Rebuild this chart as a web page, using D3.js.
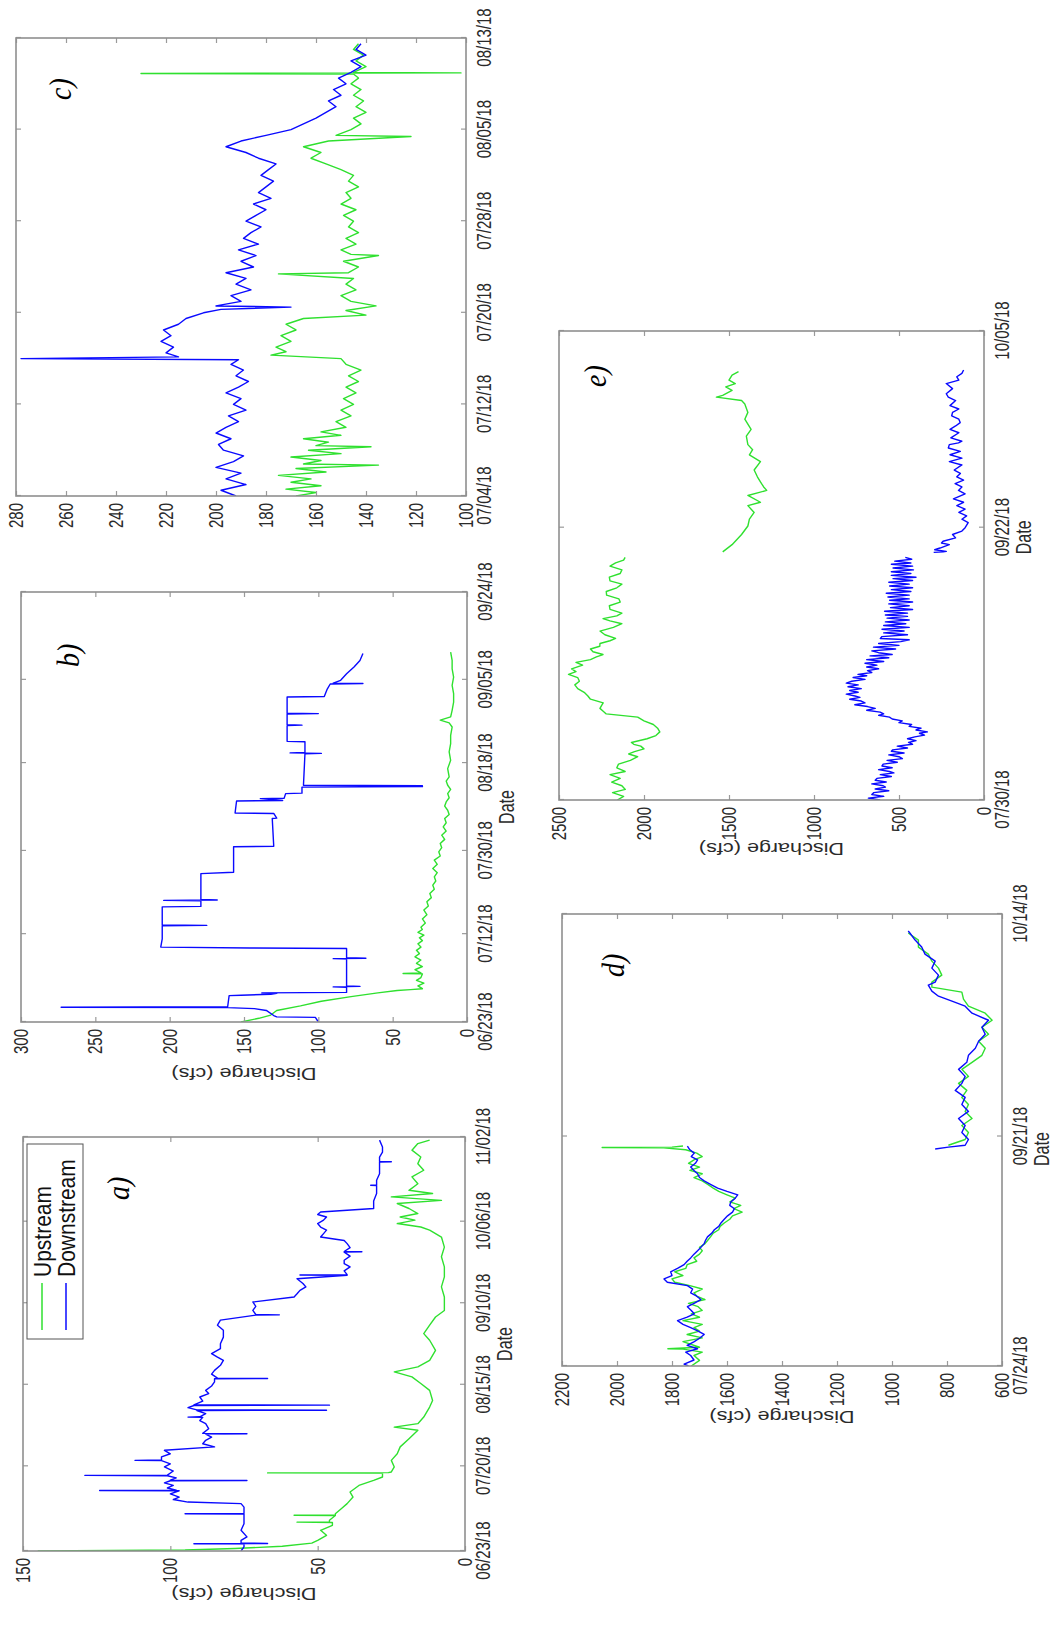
<!DOCTYPE html>
<html>
<head>
<meta charset="utf-8">
<script src="https://cdn.jsdelivr.net/npm/d3@7"></script>
<style>
  body { margin: 0; background: #fff; }
  svg { display: block; }
</style>
</head>
<body>
<svg id="fig" width="1053" height="1633"></svg>
<script>
// ---- tick labels ----
const aDates = ['06/23/18', '07/20/18', '08/15/18', '09/10/18', '10/06/18', '11/02/18'];
const aDateDays = [0, 27, 53, 79, 105, 132];
const aYTicks = [0, 50, 100, 150];

const bDates = ['06/23/18', '07/12/18', '07/30/18', '08/18/18', '09/05/18', '09/24/18'];
const bDateDays = [0, 19, 37, 56, 74, 93];
const bYTicks = [0, 50, 100, 150, 200, 250, 300];

const cDates = ['07/04/18', '07/12/18', '07/20/18', '07/28/18', '08/05/18', '08/13/18'];
const cDateDays = [0, 8, 16, 24, 32, 40];
const cYTicks = [100, 120, 140, 160, 180, 200, 220, 240, 260, 280];

// d and e skip a gap in the record, so their axes are broken at the middle date
const dDates = ['07/24/18', '09/21/18', '10/14/18'];
const dDateDays = [0, 59.8, 82];
const dYTicks = [600, 800, 1000, 1200, 1400, 1600, 1800, 2000, 2200];

const eDates = ['07/30/18', '09/22/18', '10/05/18'];
const eDateDays = [0, 55.4, 67];
const eYTicks = [0, 500, 1000, 1500, 2000, 2500];

// ---- series: [day on the axis, discharge cfs] ----
const aUp = [[0,145],[0.3,95],[0.8,78],[1.5,62],[2.5,52],[3.4,50],[5.0,47],[6.6,49],[8.2,45],[9.1,45],[9.2,57],[9.3,46],[9.8,46],[11.3,44],[11.4,58],[11.5,44],[11.9,44],[13.5,42],[15.1,40],[17.2,38],[18.8,39],[20.9,36],[22.5,31],[23.6,28],[24.8,28],[24.9,67],[25.0,26],[25.2,25],[26.8,24],[28.9,25],[31.0,23],[33.2,22],[35.8,19],[38.5,16],[39.5,24],[40.6,16],[42.7,14],[45.9,12],[48.0,11],[51.2,12],[53.4,15],[55.5,18],[57.1,24],[58.7,16],[60.8,12],[64.0,10],[67.2,12],[69.3,14],[72.0,12],[74.6,10],[76.7,7],[81.0,7],[84.2,8],[87.4,7],[90.6,7],[93.8,8],[96.9,7],[100.1,8],[102.3,12],[103.3,15],[104.4,23],[105.5,17],[106.5,22],[107.6,16],[109.2,19],[110.8,23],[111.8,8],[112.9,25],[114.0,11],[115.0,19],[117.1,16],[119.3,18],[121.4,14],[123.5,16],[125.6,15],[127.8,18],[129.9,16],[131.0,12]];
const aDown = [[0,76],[1.3,75],[2.2,75],[2.3,92],[2.4,67],[2.6,76],[3.4,76],[4.5,74],[6.6,76],[8.7,75],[11.8,75],[11.9,95],[12.0,75],[14.0,75],[15.1,76],[15.6,94],[16.4,99],[17.2,97],[18.2,100],[19.2,97],[19.3,124],[19.4,98],[20.1,101],[20.9,99],[21.7,102],[22.4,100],[22.5,74],[22.6,100],[23.3,98],[24.0,101],[24.1,129],[24.2,101],[25.5,99],[26.8,102],[27.8,100],[28.8,103],[28.9,112],[29.0,103],[30.0,103],[31.0,100],[32.1,102],[33.2,85],[34.2,89],[35.3,88],[36.3,86],[37.3,88],[37.4,74],[37.5,89],[39.0,87],[40.6,88],[41.6,90],[42.6,89],[42.7,94],[42.8,90],[43.8,88],[44.8,91],[44.9,47],[45.0,91],[45.7,94],[46.4,92],[46.5,46],[46.6,92],[47.8,89],[49.1,90],[50.2,87],[51.2,88],[52.6,86],[53.9,85],[54.9,85],[55.0,67],[55.1,84],[56.4,86],[57.6,85],[59.2,83],[60.8,82],[61.8,84],[62.9,86],[64.5,83],[66.1,83],[68.2,82],[70.4,82],[72.0,84],[73.6,83],[75.2,71],[75.3,63],[75.4,71],[76.7,72],[78.0,71],[79.4,72],[81.0,58],[82.0,57],[83.1,56],[84.2,54],[85.3,55],[86.8,57],[87.9,40],[88.0,56],[88.1,40],[89.3,41],[90.6,39],[91.6,41],[92.7,41],[94.0,39],[95.3,41],[95.4,35],[95.5,41],[96.7,39],[98.0,40],[99.0,41],[100.1,49],[101.2,48],[102.3,47],[103.3,49],[104.4,50],[105.5,48],[106.5,47],[107.3,50],[108.1,49],[109.2,31],[111.6,31],[114.0,30],[116.5,30],[116.6,32],[116.7,30],[118.2,30],[120.3,29],[122.5,29],[124.0,29],[124.1,25],[124.2,29],[125.6,29],[127.2,28],[128.8,28],[131.0,29]];

const bUp = [[0,152],[0.8,140],[1.5,132],[2.5,128],[3.5,112],[4.5,98],[5.5,78],[6.3,60],[6.8,47],[7.0,38],[7.2,30],[7.8,33],[8.4,29],[9.0,34],[9.6,31],[10.4,30],[10.5,43],[10.6,31],[11.3,35],[12.0,30],[12.7,34],[13.4,31],[14.1,35],[14.8,32],[15.5,34],[16.2,31],[16.9,33],[17.6,30],[18.2,32],[18.8,29],[19.4,33],[20.0,30],[20.5,31],[21.4,28],[22.3,30],[23.2,27],[24.2,29],[25.1,26],[26.0,27],[26.9,24],[27.8,25],[28.7,22],[29.6,23],[30.5,21],[31.4,22],[32.3,20],[33.2,23],[34.1,20],[35.0,22],[35.9,18],[36.8,19],[37.7,17],[38.6,18],[39.5,15],[40.4,17],[41.3,14],[42.2,16],[43.1,14],[44.0,15],[44.9,12],[45.8,13],[46.7,15],[47.6,14],[48.5,12],[49.4,13],[50.3,11],[51.2,13],[52.1,14],[53.0,12],[54.8,13],[56.6,11],[58.4,12],[60.2,11],[62.0,11],[63.8,10],[64.7,12],[65.3,18],[66.0,11],[67.4,10],[69.2,9],[71.0,9],[72.8,10],[74.6,9],[76.4,10],[78.2,10],[80.0,11]];
const bDown = [[0,100],[1.0,102],[1.1,128],[1.4,130],[2.5,135],[2.9,143],[3.1,161],[3.2,273],[3.3,161],[5.7,160],[5.8,152],[6.0,132],[6.2,128],[6.3,138],[6.4,81],[7.5,81],[7.6,90],[7.7,72],[7.8,81],[13.6,81],[13.7,90],[13.8,68],[13.9,81],[15.9,81],[16.0,146],[16.2,206],[18.0,205],[20.8,205],[20.9,175],[21.0,205],[24.9,205],[25.0,179],[26.2,179],[26.3,204],[26.4,168],[26.5,179],[32.1,179],[32.4,157],[37.9,157],[38.0,130],[44.0,131],[44.1,128],[45.1,130],[45.2,156],[47.8,155],[47.9,124],[48.3,139],[48.4,123],[49.4,122],[49.5,111],[50.8,111],[50.9,30],[51.1,30],[51.2,110],[58.0,109],[58.1,98],[58.2,119],[58.3,109],[60.6,109],[60.7,121],[64.1,121],[64.2,111],[64.3,121],[66.6,121],[66.7,100],[66.8,121],[70.3,121],[70.4,96],[72.0,94],[73.1,92],[73.2,70],[73.3,90],[73.9,85],[75.3,81],[76.8,76],[78.2,72],[79.7,70]];

const cUp = [[0,168],[0.3,160],[0.6,172],[0.9,158],[1.2,170],[1.5,162],[1.8,175],[2.1,156],[2.4,168],[2.7,135],[2.8,165],[3.1,158],[3.4,170],[3.7,150],[4.0,163],[4.3,138],[4.4,160],[4.7,155],[5.0,165],[5.3,150],[5.6,158],[6.0,148],[6.5,152],[7.0,146],[7.5,150],[8.0,145],[8.5,149],[9.0,144],[9.5,148],[10.0,143],[10.5,147],[11.0,142],[11.5,148],[12.0,150],[12.3,178],[12.6,172],[13.0,176],[13.5,170],[14.0,174],[14.5,168],[15.0,172],[15.5,165],[15.8,140],[16.2,148],[16.6,136],[17.0,146],[17.5,150],[18.0,144],[18.5,148],[19.0,145],[19.4,175],[19.5,147],[20.0,143],[20.5,149],[21.0,135],[21.1,146],[21.5,150],[22.0,144],[22.5,148],[23.0,143],[23.5,147],[24.0,145],[24.5,149],[25.0,144],[25.5,150],[26.0,146],[26.5,148],[27.0,143],[27.5,147],[28.0,145],[28.5,150],[29.0,156],[29.5,162],[30.0,158],[30.5,165],[31.0,155],[31.4,122],[31.5,152],[32.0,146],[32.5,142],[33.0,145],[33.5,140],[34.0,144],[34.5,141],[35.0,145],[35.5,142],[36.0,146],[36.5,143],[36.85,145],[36.9,230],[36.95,102],[37.0,145],[37.5,140],[38.0,144],[38.5,141],[39.0,145],[39.5,143]];
const cDown = [[0,192],[0.5,198],[1.0,188],[1.5,196],[2.0,190],[2.5,200],[3.0,193],[3.5,189],[4.0,197],[4.5,199],[5.0,194],[5.5,200],[6.0,196],[6.5,191],[7.0,195],[7.5,188],[8.0,193],[8.5,190],[9.0,196],[9.5,191],[10.0,187],[10.5,192],[11.0,189],[11.5,194],[11.9,191],[12.0,278],[12.15,215],[12.5,220],[13.0,217],[13.5,222],[14.0,218],[14.5,221],[15.0,215],[15.5,212],[16.0,205],[16.3,198],[16.5,170],[16.6,200],[17.0,190],[17.5,194],[18.0,186],[18.5,192],[19.0,188],[19.5,196],[20.0,185],[20.5,190],[21.0,184],[21.5,191],[22.0,183],[22.5,189],[23.0,186],[23.5,182],[24.0,188],[24.5,184],[25.0,180],[25.5,185],[26.0,178],[26.5,183],[27.0,180],[27.5,177],[28.0,182],[28.5,179],[29.0,176],[29.5,183],[30.0,188],[30.5,196],[31.0,190],[31.5,180],[32.0,170],[32.5,165],[33.0,160],[33.5,156],[34.0,152],[34.5,155],[35.0,150],[35.5,153],[36.0,148],[36.5,151],[37.0,146],[37.5,142],[38.0,146],[38.5,140],[39.0,144],[39.5,142]];

const dUp1 = [[0,1730],[1.5,1700],[2.8,1720],[3.7,1690],[4.5,1760],[4.6,1815],[5.0,1700],[6.5,1760],[7.5,1690],[8.4,1745],[9.3,1700],[10.2,1720],[11.1,1690],[12.1,1760],[13.0,1700],[13.9,1730],[14.8,1690],[15.8,1705],[16.7,1740],[17.7,1680],[18.6,1710],[19.5,1720],[20.5,1690],[21.4,1735],[22.3,1790],[23.2,1800],[24.1,1760],[25.1,1790],[26.0,1750],[27.0,1745],[27.9,1710],[28.8,1720],[29.8,1700],[30.7,1690],[31.6,1700],[32.6,1680],[33.5,1670],[34.4,1660],[35.4,1650],[36.3,1630],[37.2,1625],[38.1,1610],[39.1,1590],[40.0,1580],[41.0,1545],[41.9,1575],[42.8,1550],[43.7,1590],[44.7,1570],[45.6,1600],[46.5,1630],[47.4,1650],[48.4,1670],[49.3,1690],[50.2,1720],[51.2,1690],[52.1,1735],[53.0,1700],[54.0,1740],[54.9,1720],[55.8,1690],[56.7,1710],[57.6,1750],[58.1,1830],[58.2,2054],[58.3,1800],[58.6,1760]];
const dDown1 = [[0,1740],[0.5,1756],[1.6,1720],[2.8,1732],[3.7,1750],[4.6,1707],[5.5,1745],[6.5,1719],[7.4,1700],[8.4,1683],[9.3,1705],[10.2,1732],[11.1,1760],[12.1,1780],[13.0,1745],[13.9,1719],[14.8,1730],[15.8,1744],[16.7,1720],[17.7,1695],[18.6,1710],[19.5,1732],[20.5,1725],[21.4,1744],[22.3,1817],[23.2,1829],[24.1,1800],[25.1,1805],[26.0,1780],[27.0,1756],[27.9,1745],[28.8,1732],[29.8,1720],[30.7,1707],[31.6,1695],[32.6,1683],[33.5,1678],[34.4,1671],[35.4,1655],[36.3,1646],[37.2,1630],[38.1,1622],[39.1,1610],[40.0,1598],[41.0,1580],[41.9,1573],[42.8,1590],[43.7,1586],[44.7,1570],[45.6,1561],[46.5,1600],[47.4,1634],[48.4,1660],[49.3,1683],[50.2,1700],[51.2,1707],[52.1,1720],[53.0,1732],[54.0,1715],[54.9,1707],[55.8,1730],[56.7,1719],[57.6,1735],[58.6,1744]];
const dUp2 = [[58.8,795],[59.5,734],[60.2,722],[60.9,746],[61.6,709],[62.3,734],[63.0,722],[63.7,746],[64.4,728],[65.1,758],[65.8,722],[66.5,746],[67.2,709],[67.9,673],[68.6,661],[69.3,685],[70.0,649],[70.7,673],[71.4,636],[72.1,661],[72.8,722],[73.5,740],[74.2,746],[74.7,855],[75.2,855],[75.9,819],[76.6,831],[77.3,855],[78.0,868],[78.7,904],[79.4,904],[80.1,941]];
const dDown2 = [[57.8,843],[58.3,795],[58.8,734],[59.5,722],[60.2,746],[60.9,734],[61.6,758],[62.3,722],[63.0,746],[63.7,734],[64.4,770],[65.1,746],[65.8,734],[66.5,758],[67.2,728],[67.9,722],[68.6,697],[69.3,685],[70.0,661],[70.7,673],[71.4,649],[72.1,709],[72.8,734],[73.3,782],[73.8,831],[74.3,855],[74.9,868],[75.2,843],[75.9,831],[76.6,855],[77.3,843],[78.0,880],[78.7,892],[79.4,916],[80.1,935],[80.3,941]];

const eUp1 = [[0,2157],[0.8,2120],[1.6,2185],[2.3,2110],[3.1,2130],[3.9,2190],[4.7,2140],[5.5,2200],[6.2,2111],[7.0,2160],[7.8,2150],[8.6,2080],[9.4,2037],[10.0,2090],[10.5,2056],[11.1,2000],[11.7,2019],[12.1,2060],[12.5,2074],[13.3,1982],[14.0,1930],[14.8,1907],[15.6,1920],[16.4,1945],[17.2,2000],[18.0,2037],[18.7,2222],[19.3,2240],[19.9,2259],[20.5,2250],[21.1,2240],[21.9,2315],[22.6,2330],[23.4,2352],[24.2,2390],[25.0,2407],[25.8,2380],[26.6,2390],[27.3,2444],[27.9,2400],[28.5,2426],[29.3,2361],[29.9,2400],[30.5,2315],[31.1,2280],[31.6,2241],[32.2,2300],[32.8,2315],[33.4,2260],[34.0,2259],[34.6,2200],[35.1,2167],[35.9,2230],[36.7,2259],[37.5,2180],[38.3,2130],[38.9,2200],[39.4,2241],[40.0,2160],[40.6,2130],[41.4,2200],[42.2,2204],[43.0,2140],[43.7,2148],[44.5,2220],[45.3,2222],[46.1,2160],[46.9,2130],[47.6,2200],[48.4,2204],[49.2,2140],[50.0,2130],[50.8,2200],[51.5,2167],[52.1,2120],[52.7,2111]];
const eDown1 = [[0,611],[0.4,680],[0.8,590],[1.2,660],[1.6,648],[2.0,560],[2.4,640],[2.8,580],[3.1,593],[3.5,660],[3.9,575],[4.3,640],[4.7,630],[5.1,545],[5.5,610],[5.9,530],[6.2,556],[6.6,620],[7.0,540],[7.4,600],[7.8,593],[8.2,510],[8.6,570],[9.0,480],[9.4,500],[9.8,560],[10.2,470],[10.6,545],[10.9,537],[11.3,450],[11.7,510],[12.1,420],[12.5,444],[12.9,400],[13.3,450],[13.7,407],[14.1,350],[14.5,380],[14.8,333],[15.2,400],[15.6,370],[16.0,440],[16.4,426],[16.8,500],[17.2,481],[17.6,540],[18.0,556],[18.4,620],[18.7,590],[19.1,611],[19.5,690],[19.9,640],[20.3,685],[20.7,760],[21.1,700],[21.5,722],[21.9,790],[22.3,730],[22.6,759],[23.0,810],[23.4,740],[23.8,790],[24.2,722],[24.6,800],[25.0,740],[25.4,810],[25.8,778],[26.2,700],[26.6,770],[27.0,690],[27.3,741],[27.7,660],[28.1,685],[28.5,620],[28.9,690],[29.3,630],[29.7,700],[30.1,590],[30.5,690],[30.9,560],[31.3,670],[31.6,540],[32.0,620],[32.4,660],[32.8,520],[33.2,650],[33.6,500],[34.0,620],[34.4,490],[34.8,440],[35.1,610],[35.5,600],[35.9,450],[36.3,590],[36.7,470],[37.1,600],[37.5,440],[37.9,590],[38.3,460],[38.7,580],[39.1,440],[39.5,570],[39.9,450],[40.2,580],[40.6,450],[41.0,585],[41.4,420],[41.8,550],[42.2,440],[42.6,560],[43.0,420],[43.4,555],[43.7,440],[44.1,565],[44.5,440],[44.9,575],[45.3,430],[45.7,545],[46.1,420],[46.5,555],[46.9,440],[47.3,560],[47.7,420],[48.1,535],[48.4,400],[48.8,545],[49.2,430],[49.6,545],[50.0,415],[50.4,535],[50.8,420],[51.2,545],[51.5,430],[51.9,525],[52.3,425],[52.7,463]];
const eUp2 = [[53.9,1537],[54.4,1482],[55.0,1426],[55.5,1389],[55.9,1380],[56.3,1352],[56.7,1389],[56.9,1315],[57.3,1389],[57.6,1278],[57.8,1296],[58.1,1315],[58.4,1333],[58.8,1352],[59.3,1315],[59.7,1380],[60.0,1361],[60.3,1389],[60.8,1398],[61.2,1370],[61.8,1407],[62.2,1389],[62.7,1407],[62.9,1426],[63.1,1574],[63.2,1537],[63.5,1482],[63.7,1519],[63.9,1463],[64.1,1500],[64.4,1482],[64.6,1444]];
const eDown2 = [[53.8,296],[53.9,240],[54.0,222],[54.1,290],[54.2,259],[54.4,204],[54.5,250],[54.6,241],[54.8,167],[55.0,185],[55.2,130],[55.4,111],[55.7,93],[55.9,130],[56.1,102],[56.3,148],[56.5,111],[56.7,160],[56.9,120],[57.1,180],[57.4,111],[57.6,150],[57.8,130],[58.0,170],[58.2,120],[58.4,160],[58.6,139],[58.8,175],[59.1,130],[59.3,204],[59.5,130],[59.7,200],[59.9,139],[60.1,210],[60.3,204],[60.4,150],[60.5,130],[60.7,195],[61.0,148],[61.2,200],[61.4,167],[61.6,140],[61.8,148],[62.0,190],[62.2,185],[62.4,148],[62.6,200],[62.9,167],[63.1,210],[63.3,222],[63.6,185],[63.9,222],[64.1,148],[64.3,160],[64.5,130],[64.7,120]];

// ---- layout (landscape figure, later turned a quarter to the left) ----
const W = 1053, H = 1633;
const GREEN = '#2fe02f', BLUE = '#0a0aff';
const S = 1.35; // lettering in the source is stretched along the value axis
const FONT = '"Liberation Sans", Arial, Helvetica, sans-serif';

const panels = [
  { key: 'a', x: 82,   y: 23,  w: 414, h: 442, dates: aDates, days: aDateDays, yDom: [0, 150], yTicks: aYTicks,
    up: [aUp], down: [aDown], titles: true, legend: true, ylab: -37, tag: 'a)', tagAt: [351, 106] },
  { key: 'b', x: 611,  y: 21,  w: 430, h: 446, dates: bDates, days: bDateDays, yDom: [0, 300], yTicks: bYTicks,
    up: [bUp], down: [bDown], titles: true, ylab: -46, tag: 'b)', tagAt: [355, 58] },
  { key: 'c', x: 1137, y: 16,  w: 458, h: 450, dates: cDates, days: cDateDays, yDom: [100, 280], yTicks: cYTicks,
    up: [cUp], down: [cDown], titles: false, tag: 'c)', tagAt: [396, 55] },
  { key: 'd', x: 267,  y: 562, w: 452, h: 440, dates: dDates, days: dDateDays, stops: [0, 59, 82], pos: [0, 0.49, 1],
    yDom: [600, 2200], yTicks: dYTicks, up: [dUp1, dUp2], down: [dDown1, dDown2], titles: true, ylab: -45, dateAt: 0.48,
    tag: 'd)', tagAt: [389, 62] },
  { key: 'e', x: 833,  y: 559, w: 469, h: 425, dates: eDates, days: eDateDays, stops: [0, 54, 67], pos: [0, 0.53, 1],
    yDom: [0, 2500], yTicks: eYTicks, up: [eUp1, eUp2], down: [eDown1, eDown2], titles: true, ylab: -43, dateAt: 0.56,
    tag: 'e)', tagAt: [413, 47] }
];

const svg = d3.select('#fig');
svg.append('rect').attr('width', W).attr('height', H).attr('fill', '#fff');
const root = svg.append('g').attr('transform', `translate(0,${H}) rotate(-90)`);

function styleAxis(sel) {
  sel.select('.domain').remove();
  sel.selectAll('.tick line').attr('stroke', '#9a9a9a').attr('stroke-width', 1.2);
  sel.selectAll('.tick text').attr('fill', '#2a2a2a').attr('font-family', FONT).attr('font-size', 15);
}

panels.forEach(P => {
  const g = root.append('g').attr('transform', `translate(${P.x},${P.y})`);

  const xDom = P.stops || [P.days[0], P.days[P.days.length - 1]];
  const xPos = P.pos || [0, 1];
  const x = d3.scaleLinear().domain(xDom).range(xPos.map(f => f * P.w));
  const y = d3.scaleLinear().domain(P.yDom).range([P.h, 0]);

  g.append('clipPath').attr('id', 'clip-' + P.key)
    .append('rect').attr('width', P.w).attr('height', P.h);
  const plot = g.append('g').attr('clip-path', `url(#clip-${P.key})`);
  const line = d3.line().x(d => x(d[0])).y(d => y(d[1]));

  P.up.forEach(s => plot.append('path').attr('d', line(s))
    .attr('fill', 'none').attr('stroke', GREEN).attr('stroke-width', 1.4).attr('stroke-linejoin', 'round'));
  P.down.forEach(s => plot.append('path').attr('d', line(s))
    .attr('fill', 'none').attr('stroke', BLUE).attr('stroke-width', 1.4).attr('stroke-linejoin', 'round'));

  // inward ticks on all four sides, labels on bottom and left
  const xb = g.append('g').attr('transform', `translate(0,${P.h})`)
    .call(d3.axisBottom(x).tickValues(P.days).tickFormat((d, i) => P.dates[i]).tickSizeInner(-5).tickSizeOuter(0).tickPadding(0))
    .call(styleAxis);
  xb.selectAll('.tick text').attr('y', 11 / S).attr('transform', `scale(1,${S})`);

  g.append('g').call(d3.axisTop(x).tickValues(P.days).tickFormat('').tickSizeInner(-5).tickSizeOuter(0)).call(styleAxis);

  const yl = g.append('g')
    .call(d3.axisLeft(y).tickValues(P.yTicks).tickFormat(d3.format('d')).tickSizeInner(-5).tickSizeOuter(0).tickPadding(7))
    .call(styleAxis);
  yl.selectAll('.tick text').attr('transform', `scale(1,${S})`);

  g.append('g').attr('transform', `translate(${P.w},0)`)
    .call(d3.axisRight(y).tickValues(P.yTicks).tickFormat('').tickSizeInner(-5).tickSizeOuter(0)).call(styleAxis);

  g.append('rect').attr('width', P.w).attr('height', P.h)
    .attr('fill', 'none').attr('stroke', '#8f8f8f').attr('stroke-width', 1.6);

  if (P.titles) {
    g.append('text')
      .attr('transform', `translate(${P.w * (P.dateAt || 0.5)},${P.h + 32}) scale(1,${S})`)
      .attr('dy', '0.71em').attr('text-anchor', 'middle')
      .attr('font-family', FONT).attr('font-size', 16).attr('fill', '#2a2a2a')
      .text('Date');
    g.append('text')
      .attr('transform', `translate(${P.ylab},${P.h / 2}) scale(1,${S}) rotate(-90)`)
      .attr('text-anchor', 'middle')
      .attr('font-family', FONT).attr('font-size', 16).attr('fill', '#2a2a2a')
      .text('Discharge (cfs)');
  }

  g.append('text')
    .attr('transform', `translate(${P.tagAt[0]},${P.tagAt[1]}) scale(1,1.15)`)
    .attr('font-family', '"Liberation Serif", "Times New Roman", serif')
    .attr('font-style', 'italic').attr('font-size', 28).attr('fill', '#000')
    .text(P.tag);

  if (P.legend) {
    const lg = g.append('g').attr('transform', 'translate(212,4)');
    lg.append('rect').attr('width', 195).attr('height', 56)
      .attr('fill', '#fff').attr('stroke', '#555').attr('stroke-width', 1);
    [['Upstream', GREEN], ['Downstream', BLUE]].forEach(([name, col], i) => {
      const yy = 15 + i * 24;
      lg.append('line').attr('x1', 9).attr('x2', 56).attr('y1', yy).attr('y2', yy)
        .attr('stroke', col).attr('stroke-width', 1.5);
      lg.append('text')
        .attr('transform', `translate(62,${yy}) scale(1,1.15)`)
        .attr('dy', '0.36em')
        .attr('font-family', FONT).attr('font-size', 21).attr('fill', '#111')
        .text(name);
    });
  }
});
</script>
</body>
</html>
